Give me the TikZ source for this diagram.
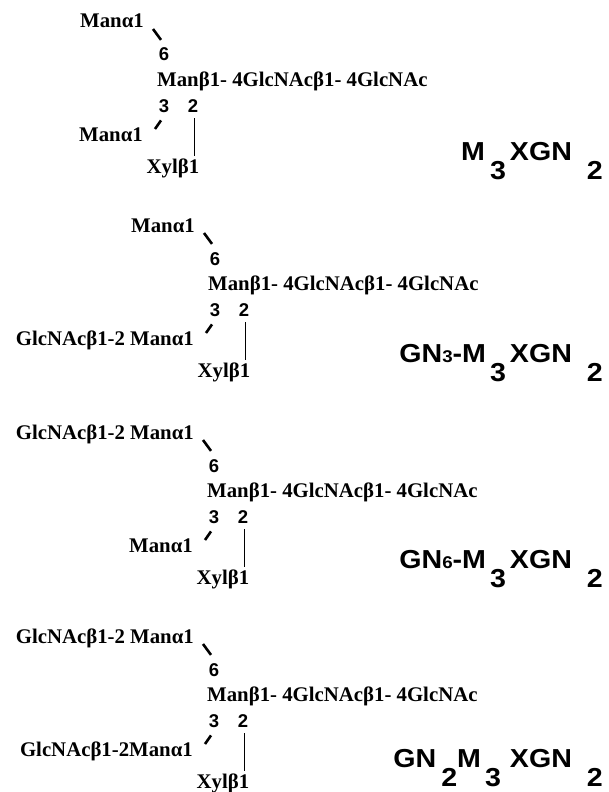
\documentclass[tikz,border=0pt]{standalone}
\usepackage{fontspec}
\setmainfont{Liberation Serif}
\newfontfamily\labfont{Liberation Sans}
\newfontfamily\labwide[FakeStretch=1.1]{Liberation Sans}
\usetikzlibrary{calc}
\tikzset{
  sug/.style={font=\fontsize{20.8}{24}\selectfont\bfseries, inner sep=0pt},
  num/.style={font=\labfont\fontsize{18.5}{20}\selectfont\bfseries, inner sep=0pt, anchor=base},
  lab/.style={font=\labwide\fontsize{26}{28}\selectfont\bfseries, inner sep=0pt, anchor=base east},
  bond/.style={line width=2.6pt},
  vbond/.style={line width=1.8pt},
}
\newcommand\lowd[1]{\raisebox{-19pt}{#1}}
\newcommand\smalld[1]{{\fontsize{17}{20}\selectfont #1}}
% #1 prefix, #2 x, #3 baseline, #4 top text, #5 low text
\newcommand\glycan[5]{%
  \begin{scope}[shift={(#2,#3)}]
    \node[sug, anchor=base east] (#1-top) at (-13,-58) {#4};
    \node[num] (#1-six) at (7,-25) {6};
    \node[sug, anchor=base west] (#1-main) at (0,0) {Manβ1- 4GlcNAcβ1- 4GlcNAc};
    \node[num] (#1-three) at (7,26) {3};
    \node[num] (#1-two) at (36,26) {2};
    \node[sug, anchor=base east] (#1-low) at (-14,55) {#5};
    \node[sug, anchor=base] (#1-xyl) at (16,87) {Xylβ1};
  \end{scope}
  \draw[bond] ($(#1-top.base east)+(9,1)$) -- ($(#1-six.north)+(-3,-8)$);
  \draw[bond] ($(#1-three.south)+(-3,8)$) -- ($(#1-low.base east)+(12,-12)$);
  \draw[vbond] ($(#1-two.south)+(1.5,6)$) -- ($(#1-two.south |- #1-xyl.north)+(1.5,-2)$);
}
\begin{document}
\begin{tikzpicture}[x=1pt,y=-1pt]
\useasboundingbox[fill=white] (0,0) rectangle (609,792);
\glycan{a}{157}{86}{Manα1}{Manα1}
\glycan{b}{208}{290}{Manα1}{GlcNAcβ1-2 Manα1}
\glycan{c}{207}{497}{GlcNAcβ1-2 Manα1}{Manα1}
\glycan{d}{207}{701}{GlcNAcβ1-2 Manα1}{GlcNAcβ1-2Manα1}
\node[lab] (a-lab) at (603,160) {M\hspace{5pt}\lowd{3}\hspace{4pt}XGN\hspace{15pt}\lowd{2}};
\node[lab] (b-lab) at (603,362) {GN\smalld{3}-M\hspace{4pt}\lowd{3}\hspace{4pt}XGN\hspace{15pt}\lowd{2}};
\node[lab] (c-lab) at (603,568) {GN\smalld{6}-M\hspace{4pt}\lowd{3}\hspace{4pt}XGN\hspace{15pt}\lowd{2}};
\node[lab] (d-lab) at (603,767) {GN\hspace{5pt}\lowd{2}M\hspace{4pt}\lowd{3}\hspace{9pt}XGN\hspace{15pt}\lowd{2}};
\end{tikzpicture}
\end{document}
